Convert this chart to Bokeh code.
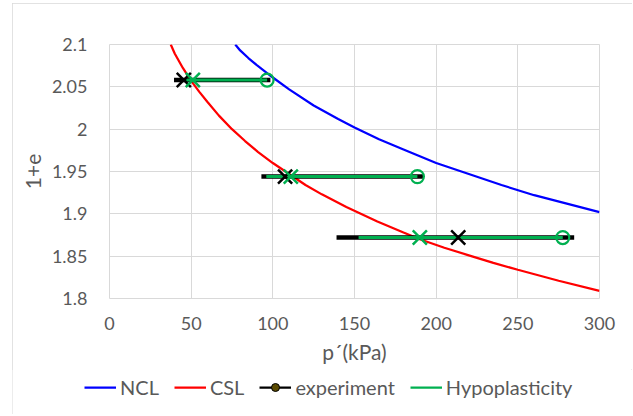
from bokeh.plotting import figure
from bokeh.layouts import column
from bokeh.models import (FixedTicker, CustomJSTickFormatter, Legend, LegendItem,
                          Range1d)
from bokeh.embed import file_html
from bokeh.resources import INLINE

# ---- data ----
x_ticks = [0, 50, 100, 150, 200, 250, 300]
y_ticks = [1.8, 1.85, 1.9, 1.95, 2.0, 2.05, 2.1]

ncl_p = [77, 80, 85, 90, 100, 110, 125, 140, 150, 165, 180, 200, 220, 240, 260, 280, 300]
ncl_e = [2.100, 2.093, 2.084, 2.076, 2.061, 2.047, 2.028, 2.012, 2.002, 1.988, 1.976,
         1.960, 1.947, 1.934, 1.922, 1.912, 1.902]

csl_p = [37.5, 40, 45, 50, 55, 60, 67, 75, 83, 91, 100, 110, 120, 130, 145, 164, 180,
         190, 205, 220, 235, 250, 275, 300]
csl_e = [2.100, 2.089, 2.072, 2.057, 2.044, 2.032, 2.016, 2.000, 1.986, 1.973, 1.960,
         1.947, 1.934, 1.923, 1.908, 1.891, 1.878, 1.870, 1.860, 1.851, 1.842, 1.834,
         1.821, 1.809]

exp_p_min = [39.5, 93, 139]
exp_p_max = [98.5, 192.5, 284.5]
exp_e = [2.058, 1.944, 1.872]
exp_p_cs = [45.5, 107.5, 213.5]

hyp_p_start = [47, 96, 152.5]
hyp_p_init = [96.5, 188.5, 277.5]
hyp_p_cs = [51, 111, 190]
hyp_e = [2.058, 1.944, 1.872]

series_labels = ["NCL", "CSL", "experiment", "Hypoplasticity"]

FONT = "Lato"
GREY = "#595959"
GRID = "#d9d9d9"
GREEN = "#00b050"
BLUE = "#0000ff"
RED = "#ff0000"

# ---------------- main chart ----------------
p = figure(width=620, height=366, output_backend="svg", toolbar_location=None,
           x_range=Range1d(0, 300), y_range=Range1d(1.8, 2.1),
           min_border_left=97, min_border_right=33, min_border_top=41,
           min_border_bottom=71)
p.frame_align = False
p.outline_line_color = GRID
p.background_fill_color = "white"
p.border_fill_color = "white"

for ax in (p.xaxis[0], p.yaxis[0]):
    ax.axis_line_color = None
    ax.major_tick_line_color = None
    ax.minor_tick_line_color = None
    ax.major_label_text_font = FONT
    ax.major_label_text_font_size = "18px"
    ax.major_label_text_color = GREY
    ax.axis_label_text_font = FONT
    ax.axis_label_text_font_size = "21px"
    ax.axis_label_text_font_style = "normal"
    ax.axis_label_text_color = GREY

p.xaxis.ticker = FixedTicker(ticks=x_ticks)
p.yaxis.ticker = FixedTicker(ticks=y_ticks)
p.yaxis.formatter = CustomJSTickFormatter(code="return String(+tick.toFixed(3));")
p.xaxis.formatter = CustomJSTickFormatter(code="return String(+tick.toFixed(3));")
p.xaxis.axis_label = "p\u00b4(kPa)"
p.yaxis.axis_label = "1+e"
p.xaxis.major_label_standoff = 12
p.yaxis.major_label_standoff = 16
p.xaxis.axis_label_standoff = 6
p.yaxis.axis_label_standoff = 8

p.xgrid.ticker = FixedTicker(ticks=x_ticks)
p.ygrid.ticker = FixedTicker(ticks=y_ticks)
p.grid.grid_line_color = GRID
p.grid.grid_line_width = 1

p.line(ncl_p, ncl_e, line_color=BLUE, line_width=2.25)
p.line(csl_p, csl_e, line_color=RED, line_width=2.25)

exp_xs = [[a, b] for a, b in zip(exp_p_min, exp_p_max)]
exp_ys = [[e, e] for e in exp_e]
p.multi_line(exp_xs, exp_ys, line_color="black", line_width=4.5)

hyp_xs = [[a, b] for a, b in zip(hyp_p_start, hyp_p_init)]
hyp_ys = [[e, e] for e in hyp_e]
p.multi_line(hyp_xs, hyp_ys, line_color=GREEN, line_width=3)

p.scatter(exp_p_cs, exp_e, marker="x", size=20, line_color="black", line_width=2.5)
p.scatter(hyp_p_cs, hyp_e, marker="x", size=20, line_color=GREEN, line_width=2.5)
p.scatter(hyp_p_init, hyp_e, marker="circle", size=13, fill_color=None,
          line_color=GREEN, line_width=2.25)

# ---------------- legend strip ----------------
lg = figure(width=620, height=45, output_backend="svg", toolbar_location=None,
            x_range=Range1d(1000, 1001), y_range=Range1d(1000, 1001),
            x_axis_location=None, y_axis_location=None, min_border=0)
lg.frame_align = False
lg.grid.visible = False
lg.outline_line_color = None
lg.background_fill_color = "white"
lg.border_fill_color = "white"

l_ncl = lg.line(ncl_p, ncl_e, line_color=BLUE, line_width=2.25)
l_csl = lg.line(csl_p, csl_e, line_color=RED, line_width=2.25)
l_exp = lg.multi_line(exp_xs, exp_ys, line_color="black", line_width=2.25)
l_dot = lg.scatter(exp_p_min, exp_e, marker="circle", size=3.5,
                   fill_color="#5a4a00", line_color="black", line_width=1)
l_hyp = lg.multi_line(hyp_xs, hyp_ys, line_color=GREEN, line_width=2.25)

legend = Legend(items=[
    LegendItem(label=series_labels[0], renderers=[l_ncl]),
    LegendItem(label=series_labels[1], renderers=[l_csl]),
    LegendItem(label=series_labels[2], renderers=[l_exp, l_dot]),
    LegendItem(label=series_labels[3], renderers=[l_hyp]),
], orientation="horizontal", location=(72, 15))
legend.label_text_font = FONT
legend.label_text_font_size = "20px"
legend.label_text_color = GREY
legend.glyph_width = 32
legend.glyph_height = 20
legend.label_height = 20
legend.label_standoff = 4
legend.spacing = 15
legend.padding = 0
legend.margin = 0
legend.border_line_color = None
legend.background_fill_alpha = 0
lg.add_layout(legend)

layout = column(p, lg, spacing=0)
layout.margin = (3, 0, 0, 12)
layout.styles = {"outline": "1px solid #d9d9d9", "outline-offset": "-1px"}

open("out.html", "w").write(file_html(layout, INLINE))
